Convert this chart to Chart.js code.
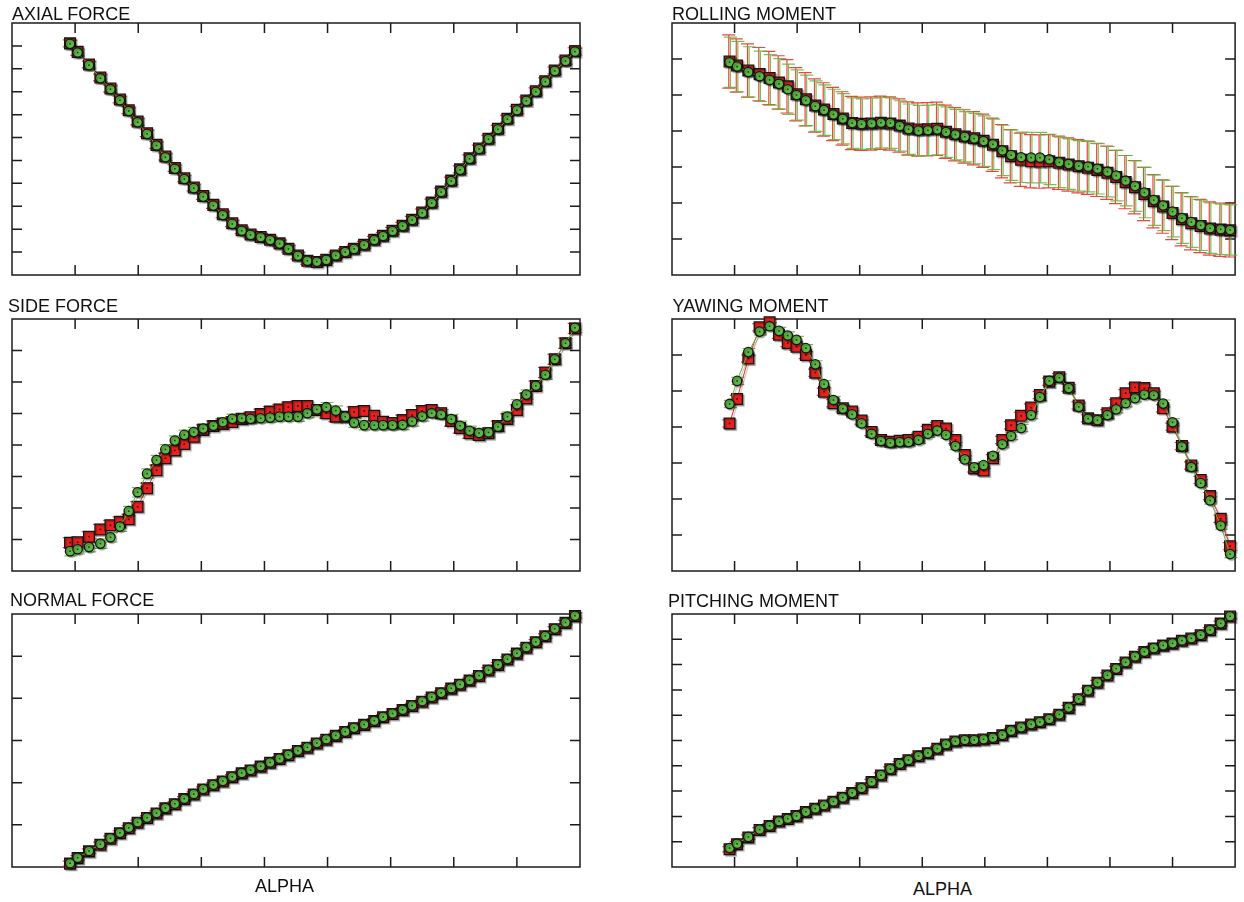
<!DOCTYPE html>
<html>
<head>
<meta charset="utf-8">
<script src="https://cdn.jsdelivr.net/npm/chart.js@4.4.1/dist/chart.umd.min.js"></script>
<style>
  html, body { margin: 0; padding: 0; background: #fff; overflow: hidden; }
  body { width: 1244px; height: 902px; position: relative; font-family: "Liberation Sans", Arial, sans-serif; }
  .label { position: absolute; font-size: 18px; line-height: 18px; color: #111; white-space: nowrap; }
  canvas { position: absolute; }
</style>
</head>
<body>
<script>
// angle of attack, in x-tick units (axis spans 9 tick intervals)
const alpha = [0.92, 1.04, 1.22, 1.40, 1.56, 1.71, 1.85, 1.99, 2.14, 2.29,
  2.43, 2.58, 2.73, 2.88, 3.03, 3.19, 3.34, 3.49, 3.64, 3.78,
  3.94, 4.09, 4.24, 4.38, 4.53, 4.68, 4.83, 4.98, 5.13, 5.28,
  5.42, 5.58, 5.74, 5.88, 6.03, 6.19, 6.34, 6.50, 6.65, 6.80,
  6.96, 7.10, 7.25, 7.40, 7.55, 7.70, 7.85, 8.00, 8.15, 8.30,
  8.45, 8.60, 8.77, 8.92];

// values in y-tick units of each panel
const axialRed = [10.11, 9.74, 9.19, 8.62, 8.14, 7.66, 7.19, 6.70, 6.19, 5.68,
  5.17, 4.67, 4.22, 3.82, 3.45, 3.06, 2.65, 2.26, 1.95, 1.77,
  1.66, 1.54, 1.38, 1.15, 0.85, 0.62, 0.57, 0.66, 0.85, 1.00,
  1.15, 1.32, 1.54, 1.71, 1.93, 2.15, 2.41, 2.73, 3.16, 3.64,
  4.12, 4.61, 5.09, 5.52, 5.95, 6.38, 6.82, 7.21, 7.62, 8.02,
  8.46, 8.93, 9.36, 9.77];
const axialGreen = [10.09, 9.71, 9.16, 8.59, 8.11, 7.63, 7.16, 6.67, 6.16, 5.65,
  5.14, 4.64, 4.19, 3.79, 3.42, 3.03, 2.62, 2.23, 1.93, 1.75,
  1.65, 1.53, 1.37, 1.14, 0.84, 0.62, 0.58, 0.66, 0.85, 1.00,
  1.14, 1.31, 1.53, 1.70, 1.92, 2.14, 2.40, 2.71, 3.14, 3.62,
  4.10, 4.59, 5.07, 5.50, 5.93, 6.36, 6.80, 7.19, 7.60, 8.00,
  8.44, 8.91, 9.34, 9.75];

const rollingRed = [5.93, 5.82, 5.68, 5.58, 5.47, 5.35, 5.24, 5.02, 4.88, 4.71,
  4.60, 4.47, 4.35, 4.22, 4.20, 4.21, 4.23, 4.21, 4.15, 4.07,
  4.04, 4.05, 4.06, 3.98, 3.91, 3.85, 3.80, 3.73, 3.62, 3.44,
  3.30, 3.20, 3.16, 3.15, 3.16, 3.12, 3.07, 3.02, 2.98, 2.92,
  2.84, 2.72, 2.58, 2.44, 2.25, 2.05, 1.90, 1.72, 1.55, 1.44,
  1.36, 1.29, 1.26, 1.24];
const rollingGreen = [5.91, 5.79, 5.64, 5.52, 5.42, 5.31, 5.16, 5.00, 4.85, 4.69,
  4.58, 4.46, 4.34, 4.22, 4.19, 4.21, 4.23, 4.22, 4.14, 4.05,
  4.01, 4.02, 4.04, 3.97, 3.90, 3.84, 3.79, 3.72, 3.63, 3.46,
  3.33, 3.27, 3.26, 3.26, 3.21, 3.13, 3.08, 3.03, 3.01, 2.95,
  2.87, 2.76, 2.62, 2.47, 2.29, 2.08, 1.93, 1.76, 1.58, 1.47,
  1.38, 1.30, 1.27, 1.25];

const sideRed = [0.90, 0.91, 1.09, 1.32, 1.45, 1.56, 1.64, 2.04, 2.63, 3.20,
  3.58, 3.83, 4.03, 4.26, 4.48, 4.60, 4.67, 4.73, 4.83, 4.88,
  4.98, 5.06, 5.13, 5.20, 5.24, 5.24, 5.11, 5.01, 4.90, 4.90,
  5.05, 5.08, 4.93, 4.74, 4.70, 4.79, 4.95, 5.08, 5.11, 5.01,
  4.76, 4.54, 4.37, 4.32, 4.37, 4.60, 4.83, 5.11, 5.48, 5.87,
  6.30, 6.72, 7.23, 7.70];
const sideGreen = [0.63, 0.69, 0.76, 0.87, 1.07, 1.41, 1.90, 2.50, 3.09, 3.52,
  3.86, 4.14, 4.32, 4.41, 4.52, 4.61, 4.72, 4.83, 4.85, 4.83,
  4.85, 4.87, 4.90, 4.90, 4.90, 5.01, 5.13, 5.20, 5.09, 4.90,
  4.71, 4.63, 4.63, 4.63, 4.63, 4.64, 4.75, 4.91, 5.01, 4.97,
  4.82, 4.61, 4.45, 4.38, 4.40, 4.58, 4.90, 5.29, 5.60, 5.88,
  6.23, 6.72, 7.23, 7.72];

const yawingRed = [4.10, 4.78, 5.90, 6.77, 6.91, 6.56, 6.33, 6.23, 6.00, 5.51,
  4.98, 4.66, 4.52, 4.43, 4.18, 3.86, 3.64, 3.59, 3.62, 3.64,
  3.73, 3.92, 4.03, 3.96, 3.64, 3.22, 2.85, 2.79, 3.13, 3.64,
  4.05, 4.31, 4.54, 4.89, 5.26, 5.38, 5.09, 4.60, 4.24, 4.19,
  4.38, 4.66, 4.94, 5.10, 5.08, 4.94, 4.52, 4.01, 3.47, 2.93,
  2.53, 2.08, 1.45, 0.69];
const yawingGreen = [4.64, 5.28, 6.08, 6.65, 6.80, 6.67, 6.54, 6.42, 6.19, 5.74,
  5.19, 4.75, 4.51, 4.35, 4.10, 3.81, 3.61, 3.56, 3.58, 3.58,
  3.64, 3.81, 3.90, 3.78, 3.47, 3.10, 2.88, 2.94, 3.20, 3.52,
  3.75, 3.97, 4.33, 4.83, 5.28, 5.37, 5.08, 4.56, 4.23, 4.19,
  4.33, 4.49, 4.66, 4.80, 4.90, 4.88, 4.65, 4.13, 3.46, 2.89,
  2.44, 1.96, 1.26, 0.47];

const normalRed = [0.08, 0.21, 0.37, 0.53, 0.67, 0.80, 0.92, 1.05, 1.16, 1.27,
  1.39, 1.49, 1.61, 1.72, 1.84, 1.94, 2.03, 2.13, 2.22, 2.29,
  2.38, 2.47, 2.56, 2.65, 2.75, 2.83, 2.93, 3.02, 3.11, 3.20,
  3.29, 3.37, 3.46, 3.55, 3.63, 3.72, 3.82, 3.92, 4.02, 4.12,
  4.23, 4.32, 4.42, 4.53, 4.66, 4.79, 4.92, 5.06, 5.20, 5.33,
  5.47, 5.64, 5.79, 5.95];
const normalGreen = [0.09, 0.22, 0.38, 0.54, 0.68, 0.81, 0.93, 1.06, 1.17, 1.28,
  1.40, 1.50, 1.62, 1.73, 1.85, 1.95, 2.04, 2.14, 2.23, 2.30,
  2.39, 2.48, 2.57, 2.66, 2.76, 2.84, 2.94, 3.03, 3.12, 3.21,
  3.30, 3.38, 3.47, 3.56, 3.64, 3.73, 3.83, 3.93, 4.03, 4.13,
  4.24, 4.33, 4.43, 4.54, 4.67, 4.80, 4.93, 5.07, 5.21, 5.34,
  5.48, 5.65, 5.80, 5.96];

const pitchingRed = [0.70, 0.90, 1.17, 1.46, 1.62, 1.80, 1.90, 2.01, 2.17, 2.30,
  2.43, 2.58, 2.74, 2.92, 3.11, 3.36, 3.62, 3.86, 4.07, 4.22,
  4.38, 4.50, 4.67, 4.84, 4.96, 5.01, 5.01, 5.04, 5.10, 5.21,
  5.38, 5.51, 5.63, 5.72, 5.84, 6.02, 6.29, 6.63, 6.97, 7.28,
  7.57, 7.83, 8.08, 8.31, 8.50, 8.64, 8.75, 8.83, 8.94, 9.03,
  9.16, 9.36, 9.62, 9.90];
const pitchingGreen = [0.75, 0.92, 1.19, 1.48, 1.63, 1.81, 1.91, 2.02, 2.18, 2.31,
  2.44, 2.59, 2.75, 2.93, 3.12, 3.37, 3.63, 3.87, 4.08, 4.23,
  4.39, 4.51, 4.68, 4.85, 4.97, 5.02, 5.02, 5.05, 5.11, 5.22,
  5.39, 5.52, 5.64, 5.73, 5.85, 6.03, 6.30, 6.64, 6.98, 7.29,
  7.58, 7.84, 8.09, 8.32, 8.51, 8.65, 8.76, 8.84, 8.95, 9.04,
  9.17, 9.37, 9.63, 9.91];

// half-length of the error bars (same units as the values): [red, green]
const axialErr = [0.15, 0.15];
const rollingErr = [0.74, 0.70];
const sideErr = [0.16, 0.15];
const yawingErr = [0.10, 0.10];
const normalErr = [0.06, 0.06];
const pitchingErr = [0.10, 0.10];

// number of y tick intervals per panel; x always has 9
const X_INTERVALS = 9;

const panels = [
  { title: 'AXIAL FORCE', red: axialRed, green: axialGreen, err: axialErr, yIntervals: 11,
    box: [12, 23, 568, 252], titlePos: [12, 5] },
  { title: 'ROLLING MOMENT', red: rollingRed, green: rollingGreen, err: rollingErr, yIntervals: 7,
    box: [672, 23, 569, 252], titlePos: [672, 4.5] },
  { title: 'SIDE FORCE', red: sideRed, green: sideGreen, err: sideErr, yIntervals: 8,
    box: [12, 319, 568, 252], titlePos: [8, 296.5] },
  { title: 'YAWING MOMENT', red: yawingRed, green: yawingGreen, err: yawingErr, yIntervals: 7,
    box: [672, 319, 569, 252], titlePos: [672.5, 297.3] },
  { title: 'NORMAL FORCE', red: normalRed, green: normalGreen, err: normalErr, yIntervals: 6,
    box: [12, 614, 568, 253], titlePos: [10, 590.8] },
  { title: 'PITCHING MOMENT', red: pitchingRed, green: pitchingGreen, err: pitchingErr, yIntervals: 10,
    box: [672, 614, 569, 253], titlePos: [668, 591.8] },
];

const xLabels = [
  { text: 'ALPHA', pos: [255, 876.5] },
  { text: 'ALPHA', pos: [913, 880] },
];

const RED = '#e8211f';
const GREEN = '#5db845';

function addLabel(text, x, y) {
  const d = document.createElement('div');
  d.className = 'label';
  d.style.left = x + 'px';
  d.style.top = y + 'px';
  d.textContent = text;
  document.body.appendChild(d);
}

// frame with inward ticks on all four sides, and error bars, under the markers
const framePlugin = {
  id: 'frame',
  beforeDatasetsDraw(chart, args, opts) {
    const { ctx, chartArea: a, scales: { x, y } } = chart;
    ctx.save();
    ctx.strokeStyle = '#1b1b1b';
    ctx.lineWidth = 1.5;
    ctx.strokeRect(a.left, a.top, a.right - a.left, a.bottom - a.top);
    ctx.beginPath();
    const xStep = (x.max - x.min) / X_INTERVALS;
    for (let i = 1; i < X_INTERVALS; i++) {
      const px = x.getPixelForValue(x.min + i * xStep);
      ctx.moveTo(px, a.top); ctx.lineTo(px, a.top + 10);
      ctx.moveTo(px, a.bottom); ctx.lineTo(px, a.bottom - 10);
    }
    const yStep = (y.max - y.min) / opts.yIntervals;
    for (let i = 1; i < opts.yIntervals; i++) {
      const py = y.getPixelForValue(y.min + i * yStep);
      ctx.moveTo(a.left, py); ctx.lineTo(a.left + 10, py);
      ctx.moveTo(a.right, py); ctx.lineTo(a.right - 10, py);
    }
    ctx.stroke();

    // error bars: red first, then green on top
    for (const i of [1, 0]) {
      const ds = chart.data.datasets[i];
      ctx.strokeStyle = ds.errorColor;
      ctx.lineWidth = 1.2;
      ctx.beginPath();
      ds.data.forEach((p) => {
        const px = x.getPixelForValue(p.x) + ds.errorShift;
        const y1 = y.getPixelForValue(p.y + ds.errorBar);
        const y2 = y.getPixelForValue(p.y - ds.errorBar);
        ctx.moveTo(px, y1); ctx.lineTo(px, y2);
        ctx.moveTo(px - 6.5, y1); ctx.lineTo(px + 6.5, y1);
        ctx.moveTo(px - 6.5, y2); ctx.lineTo(px + 6.5, y2);
      });
      ctx.stroke();
    }
    ctx.restore();
  },
  // soft grey drop shadow under the markers, like the original plot
  beforeDatasetDraw(chart) {
    const ctx = chart.ctx;
    ctx.save();
    ctx.shadowColor = 'rgba(0,0,0,0.28)';
    ctx.shadowOffsetX = 1.5;
    ctx.shadowOffsetY = 1.5;
    ctx.shadowBlur = 1;
  },
  // small dot in the middle of every marker
  afterDatasetDraw(chart, args) {
    const ctx = chart.ctx;
    ctx.restore();
    const ds = chart.data.datasets[args.index];
    ctx.save();
    ctx.fillStyle = ds.dotColor;
    for (const el of args.meta.data) {
      ctx.fillRect(el.x - 0.8, el.y - 0.8, 1.6, 1.6);
    }
    ctx.restore();
  }
};

panels.forEach((p) => {
  const [bx, by, bw, bh] = p.box;
  const padL = 10, padT = 10, padB = 10;
  const padR = bx > 600 ? 3 : 10;
  const cv = document.createElement('canvas');
  cv.width = bw + padL + padR;
  cv.height = bh + padT + padB;
  cv.style.left = (bx - padL) + 'px';
  cv.style.top = (by - padT) + 'px';
  document.body.appendChild(cv);
  addLabel(p.title, p.titlePos[0], p.titlePos[1]);

  const greenPts = alpha.map((a, i) => ({ x: a, y: p.green[i] }));
  const redPts = alpha.map((a, i) => ({ x: a, y: p.red[i] }));

  new Chart(cv, {
    type: 'scatter',
    data: {
      datasets: [
        {
          label: 'green', data: greenPts, showLine: true, order: 0, clip: false,
          borderColor: '#62b33c', borderWidth: 1,
          pointStyle: 'circle', pointRadius: 4.7,
          pointBackgroundColor: GREEN, pointBorderColor: '#141414', pointBorderWidth: 1.3,
          errorBar: p.err[1], errorColor: 'rgba(95,180,55,0.85)', errorShift: 0.8,
          dotColor: '#1d3a12'
        },
        {
          label: 'red', data: redPts, showLine: true, order: 1, clip: false,
          borderColor: '#e82a22', borderWidth: 1,
          pointStyle: 'rect', pointRadius: 7.6,
          pointBackgroundColor: RED, pointBorderColor: '#141414', pointBorderWidth: 1.3,
          errorBar: p.err[0], errorColor: 'rgba(235,35,30,0.85)', errorShift: -0.8,
          dotColor: '#3a0505'
        }
      ]
    },
    options: {
      responsive: false,
      animation: false,
      events: [],
      layout: { padding: { left: padL, right: padR, top: padT, bottom: padB } },
      scales: {
        x: { type: 'linear', min: 0, max: X_INTERVALS, display: false },
        y: { type: 'linear', min: 0, max: p.yIntervals, display: false }
      },
      plugins: {
        legend: { display: false },
        tooltip: { enabled: false },
        frame: { yIntervals: p.yIntervals }
      }
    },
    plugins: [framePlugin]
  });
});

xLabels.forEach((l) => addLabel(l.text, l.pos[0], l.pos[1]));
</script>
</body>
</html>
